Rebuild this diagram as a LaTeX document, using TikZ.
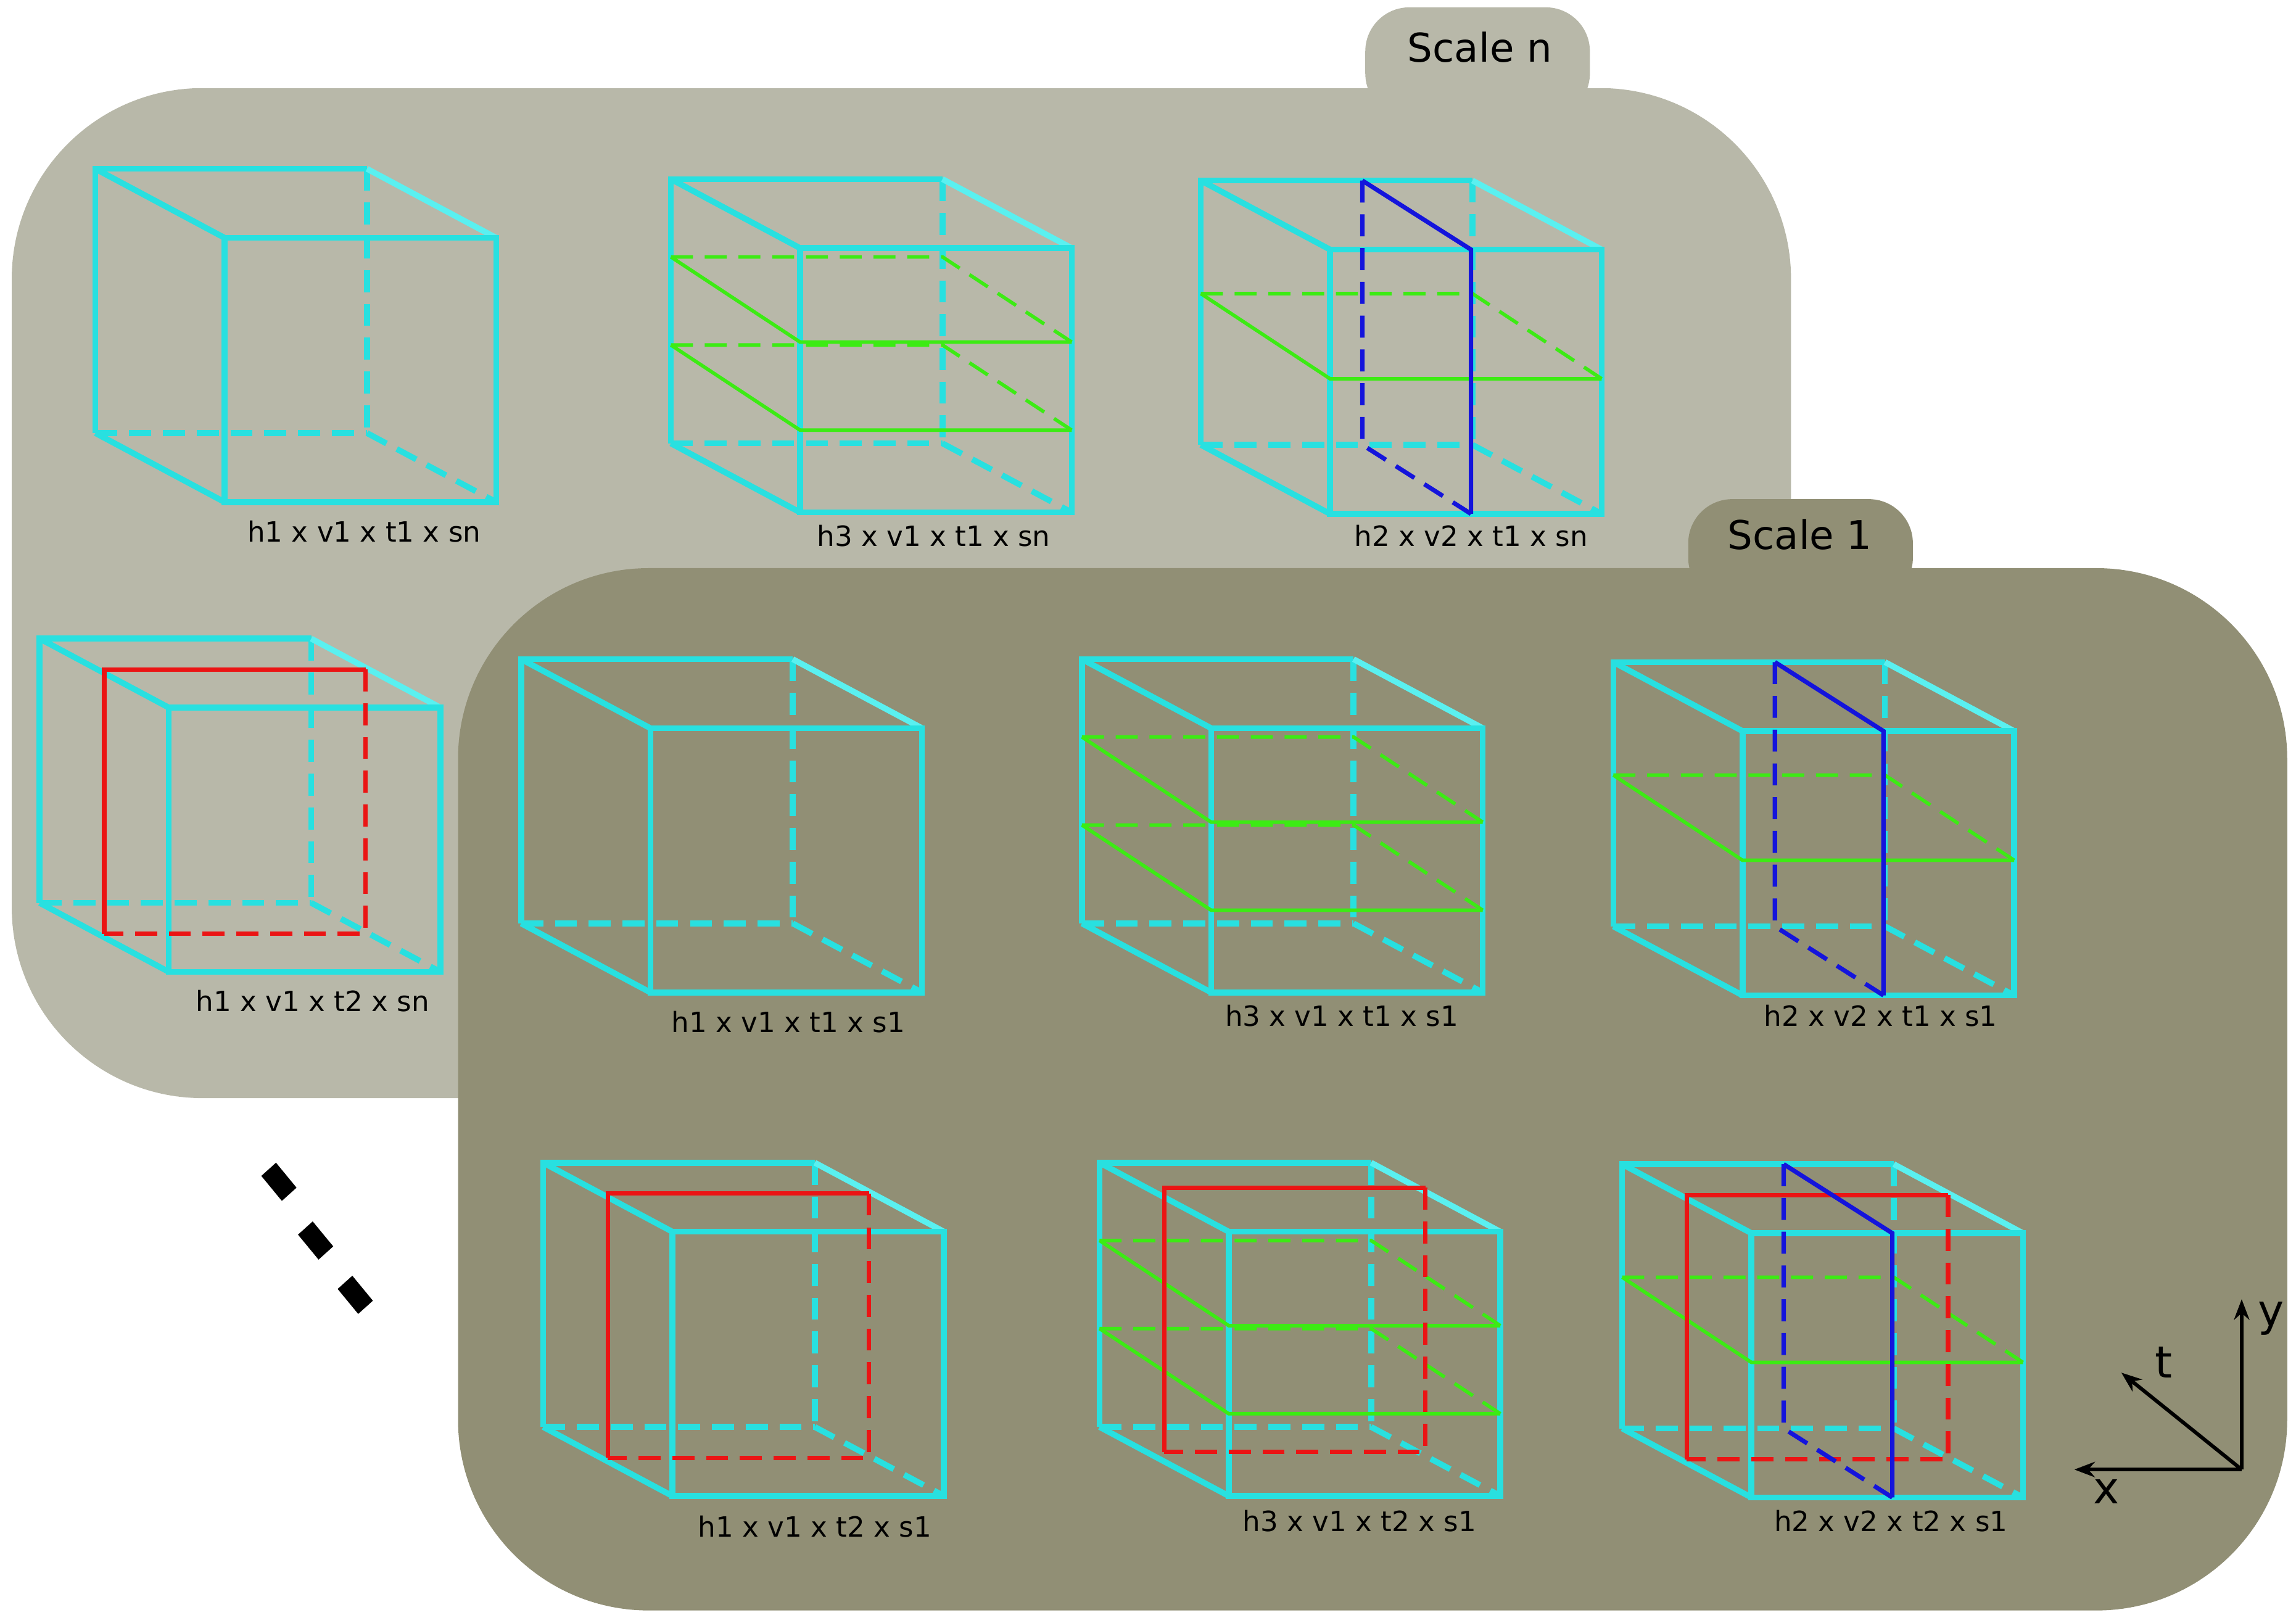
\documentclass[tikz,border=0pt]{standalone}
\usepackage{fontspec}
\setmainfont{DejaVu Sans}
\usetikzlibrary{arrows.meta}
\definecolor{cy}{RGB}{40,224,224}
\definecolor{cyl}{RGB}{90,240,240}
\definecolor{gr}{RGB}{60,235,20}
\definecolor{rd}{RGB}{235,20,20}
\definecolor{bl}{RGB}{20,20,220}
\definecolor{pn}{RGB}{184,184,169}
\definecolor{po}{RGB}{145,143,117}
\tikzset{
 ce/.style={draw=cy,line width=4pt},
 cel/.style={draw=cyl,line width=4pt},
 ge/.style={draw=gr,line width=2.4pt},
 re/.style={draw=rd,line width=3pt},
 be/.style={draw=bl,line width=3pt},
 dsh/.style={dash pattern=on 15pt off 8pt},
 lab/.style={font=\fontsize{19}{22}\selectfont},
 tab/.style={font=\fontsize{27}{32}\selectfont},
 ax/.style={font=\fontsize{30}{34}\selectfont},
}
\newcommand\cubeat[2]{%
 \begin{scope}[shift={(#1,#2)}]
 \draw[ce,dsh] (185,0)--(185,180); \draw[ce,dsh] (0,180)--(185,180);
 \draw[ce,dsh] (185,180)--(273,227);
 \draw[ce] (0,180)--(0,0)--(185,0);
 \draw[ce] (0,0)--(88,47); \draw[cel] (185,0)--(273,47); \draw[ce] (0,180)--(88,227);
 \draw[ce] (88,47) rectangle (273,227);
 \end{scope}}
\newcommand\hpl[3]{%
 \begin{scope}[shift={(#1,#2)}]
 \draw[ge,dsh] (0,#3)--(185,#3)--(273,#3+58);
 \draw[ge] (0,#3)--(88,#3+58)--(273,#3+58);
 \end{scope}}
\newcommand\vpl[2]{%
 \begin{scope}[shift={(#1,#2)}]
 \draw[be,dsh] (110,0)--(110,180)--(184,227);
 \draw[be] (110,0)--(184,47)--(184,227);
 \end{scope}}
\newcommand\tpl[2]{%
 \begin{scope}[shift={(#1,#2)}]
 \draw[re,dsh] (222,21)--(222,201)--(44,201);
 \draw[re] (44,201)--(44,21)--(222,21);
 \end{scope}}
\begin{document}
\begin{tikzpicture}[x=1pt,y=-1pt]
\useasboundingbox (0,0) rectangle (1564,1100);
% Scale n panel
\fill[pn,rounded corners=30pt] (930,80)--(930,5)--(1083,5)--(1083,80)--cycle;
\fill[pn,rounded corners=130pt] (8,60) rectangle (1220,748);
\node[tab] (sn) at (1008,32) {Scale n};
\cubeat{65}{115}
\cubeat{457}{122} \hpl{457}{122}{53} \hpl{457}{122}{113}
\cubeat{818}{123} \hpl{818}{123}{77} \vpl{818}{123}
\cubeat{27}{435} \tpl{27}{435}
\node[lab] (l1) at (248,362) {h1 x v1 x t1 x sn};
\node[lab] (l2) at (636,365) {h3 x v1 x t1 x sn};
\node[lab] (l3) at (1002,365) {h2 x v2 x t1 x sn};
\node[lab] (l4) at (213,682) {h1 x v1 x t2 x sn};
% Scale 1 panel
\fill[po,rounded corners=30pt] (1150,410)--(1150,340)--(1303,340)--(1303,410)--cycle;
\fill[po,rounded corners=130pt] (312,387) rectangle (1558,1097);
\node[tab] (s1) at (1226,364) {Scale 1};
\cubeat{355}{449}
\cubeat{737}{449} \hpl{737}{449}{53} \hpl{737}{449}{113}
\cubeat{1099}{451} \hpl{1099}{451}{77} \vpl{1099}{451}
\cubeat{370}{792} \tpl{370}{792}
\cubeat{749}{792} \hpl{749}{792}{53} \hpl{749}{792}{113} \tpl{749}{788}
\cubeat{1105}{793} \hpl{1105}{793}{77} \tpl{1105}{793} \vpl{1105}{793}
\node[lab] (m1) at (537,696) {h1 x v1 x t1 x s1};
\node[lab] (m2) at (914,692) {h3 x v1 x t1 x s1};
\node[lab] (m3) at (1281,692) {h2 x v2 x t1 x s1};
\node[lab] (m4) at (555,1040) {h1 x v1 x t2 x s1};
\node[lab] (m5) at (926,1036) {h3 x v1 x t2 x s1};
\node[lab] (m6) at (1288,1036) {h2 x v2 x t2 x s1};
% dots
\foreach \x/\y in {190/805,215/845,242/882}
 \fill[black] (\x-12,\y-4)--(\x-2,\y-13)--(\x+12,\y+4)--(\x+2,\y+13)--cycle;
% axes
\coordinate (o) at (1527,1001);
\coordinate (ay) at (1527,885);
\coordinate (axx) at (1413,1001);
\coordinate (at) at (1445,935);
\draw[line width=2.5pt,-{Stealth[length=14pt]}] (o)--(ay);
\draw[line width=2.5pt,-{Stealth[length=14pt]}] (o)--(axx);
\draw[line width=2.5pt,-{Stealth[length=14pt]}] (o)--(at);
\node[ax] (ly) at (1547,898) {y};
\node[ax] (lx) at (1435,1016) {x};
\node[ax] (lt) at (1474,928) {t};
\end{tikzpicture}
\end{document}
